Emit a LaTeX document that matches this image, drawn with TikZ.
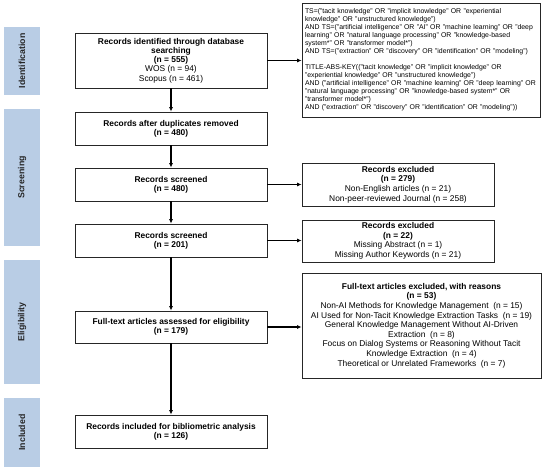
\documentclass[tikz,border=0pt]{standalone}
\usepackage{fontspec}
\setmainfont{Liberation Sans}
\usetikzlibrary{arrows.meta}
\definecolor{barblue}{HTML}{B9CDE5}
\begin{document}
\begin{tikzpicture}[x=1pt,y=-1pt,
  stagebar/.style={fill=barblue, draw=none, minimum width=36pt, inner sep=0pt},
  stagetext/.style={font=\bfseries\fontsize{8.8}{10}\selectfont, text=black!85, rotate=90},
  mainbox/.style={draw=black!85, line width=0.8pt, minimum width=192pt, inner sep=0pt, align=center, font=\fontsize{8.4}{9.3}\selectfont},
  sidebox/.style={draw=black!85, line width=0.8pt, inner sep=0pt, align=center, font=\fontsize{8.4}{9.6}\selectfont},
  flow/.style={line width=1.1pt, -{Latex[length=4.5pt,width=4pt]}}
]
\useasboundingbox (0,0) rectangle (550,473);
% stage bars
\node[stagebar, minimum height=68pt] (bid) at (22,61) {};
\node[stagetext] at (bid.center) {Identification};
\node[stagebar, minimum height=137pt] (bsc) at (22,177.5) {};
\node[stagetext] at (bsc.center) {Screening};
\node[stagebar, minimum height=124pt] (bel) at (22,322) {};
\node[stagetext] at (bel.center) {Eligibility};
\node[stagebar, minimum height=69pt] (bin) at (22,432.5) {};
\node[stagetext] at (bin.center) {Included};
% main boxes
\node[mainbox, minimum height=55pt] (b1) at (171,60.5) {\textbf{Records identified through database}\\\textbf{searching}\\\textbf{(n = 555)}\\WOS (n = 94)\\Scopus (n = 461)};
\node[mainbox, minimum height=33pt] (b2) at (171,128.5) {\textbf{Records after duplicates removed}\\\textbf{(n = 480)}};
\node[mainbox, minimum height=33pt] (b3) at (171,184.5) {\textbf{Records screened}\\\textbf{(n = 480)}};
\node[mainbox, minimum height=33pt] (b4) at (171,240.5) {\textbf{Records screened}\\\textbf{(n = 201)}};
\node[mainbox, minimum height=32pt] (b5) at (171,327) {\textbf{Full-text articles assessed for eligibility}\\\textbf{(n = 179)}};
\node[mainbox, minimum height=33pt] (b6) at (171,431.5) {\textbf{Records included for bibliometric analysis}\\\textbf{(n = 126)}};
% side boxes
\node[sidebox, minimum width=238pt, minimum height=114pt, text width=232pt, align=left, font=\fontsize{6.9}{8}\selectfont] (s0) at (421,60) {TS=("tacit knowledge" OR "implicit knowledge" OR "experiential\\knowledge" OR "unstructured knowledge")\\AND TS=("artificial intelligence" OR "AI" OR "machine learning" OR "deep\\learning" OR "natural language processing" OR "knowledge-based\\system*" OR "transformer model*")\\AND TS=("extraction" OR "discovery" OR "identification" OR "modeling")\\[8pt]TITLE-ABS-KEY(("tacit knowledge" OR "implicit knowledge" OR\\"experiential knowledge" OR "unstructured knowledge")\\AND ("artificial intelligence" OR "machine learning" OR "deep learning" OR\\"natural language processing" OR "knowledge-based system*" OR\\"transformer model*")\\AND ("extraction" OR "discovery" OR "identification" OR "modeling"))};
\node[sidebox, minimum width=192pt, minimum height=43pt] (s1) at (398,184.5) {\textbf{Records excluded}\\\textbf{(n = 279)}\\Non-English articles (n = 21)\\Non-peer-reviewed Journal (n = 258)};
\node[sidebox, minimum width=192pt, minimum height=42pt] (s2) at (398,241) {\textbf{Records excluded}\\\textbf{(n = 22)}\\Missing Abstract (n = 1)\\Missing Author Keywords (n = 21)};
\node[sidebox, minimum width=239pt, minimum height=105pt] (s3) at (421.5,325.5) {\textbf{Full-text articles excluded, with reasons}\\\textbf{(n = 53)}\\Non-AI Methods for Knowledge Management~ (n = 15)\\AI Used for Non-Tacit Knowledge Extraction Tasks~ (n = 19)\\General Knowledge Management Without AI-Driven\\Extraction~ (n = 8)\\Focus on Dialog Systems or Reasoning Without Tacit\\Knowledge Extraction~ (n = 4)\\Theoretical or Unrelated Frameworks~ (n = 7)};
% vertical arrows
\draw[flow] (b1) -- (b2);
\draw[flow] (b2) -- (b3);
\draw[flow] (b3) -- (b4);
\draw[flow] (b4) -- (b5);
\draw[flow] (b5) -- (b6);
% horizontal arrows
\draw[flow] (b1.east) -- (b1.east -| s0.west);
\draw[flow] (b3.east) -- (b3.east -| s1.west);
\draw[flow] (b4.east) -- (b4.east -| s2.west);
\draw[flow] (b5.east) -- (b5.east -| s3.west);
\end{tikzpicture}
\end{document}
